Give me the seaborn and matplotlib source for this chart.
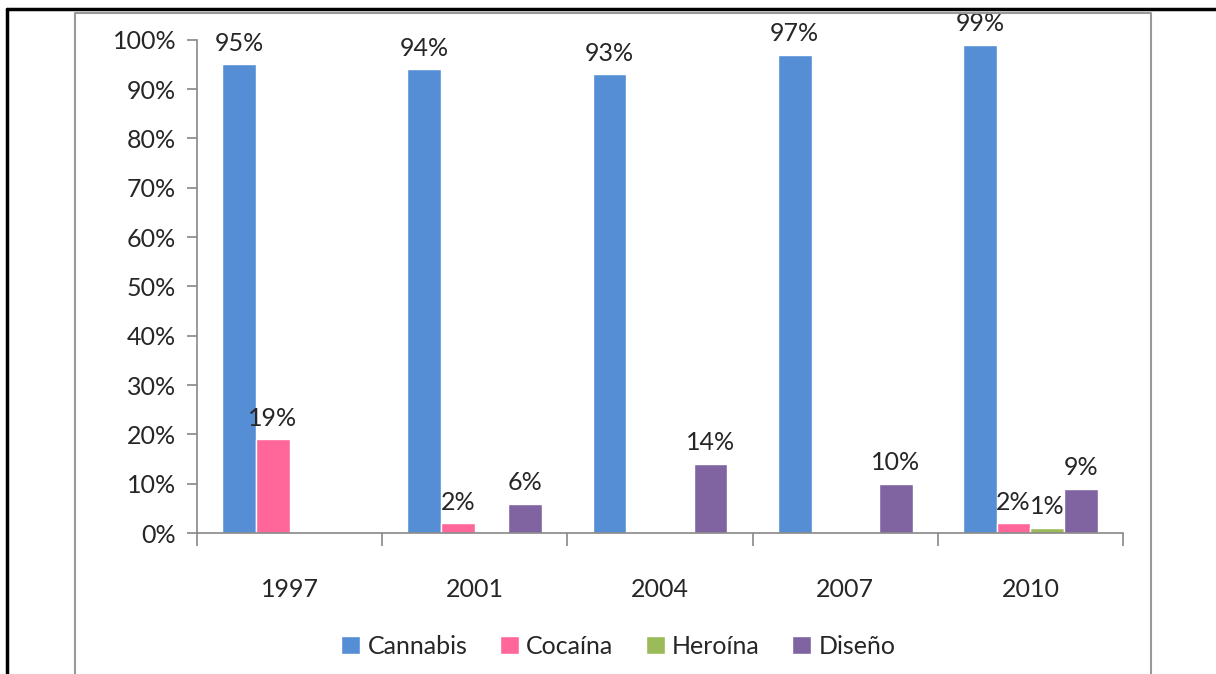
import numpy as np
import pandas as pd
import seaborn as sns
import matplotlib.pyplot as plt
from matplotlib.lines import Line2D
from matplotlib.ticker import FuncFormatter, FixedLocator

# Datos (porcentajes)
years = ["1997", "2001", "2004", "2007", "2010"]
cannabis = [95, 94, 93, 97, 99]
cocaina = [19, 2, np.nan, np.nan, 2]
heroina = [np.nan, np.nan, np.nan, np.nan, 1]
diseno = [np.nan, 6, 14, 10, 9]

drogas = ["Cannabis", "Cocaína", "Heroína", "Diseño"]
colores = ["#558ED5", "#FF6699", "#9BBB59", "#8064A2"]

df = pd.DataFrame({"anio": years * 4,
                   "droga": np.repeat(drogas, len(years)),
                   "valor": cannabis + cocaina + heroina + diseno})

sns.set_style("white")
plt.rcParams["font.family"] = ["Lato", "DejaVu Sans"]
fs = 18

fig = plt.figure(figsize=(12.16, 6.74), dpi=100)
ax = fig.add_axes([0.162, 0.209, 0.7615, 0.732])

sns.barplot(data=df, x="anio", y="valor", hue="droga", hue_order=drogas,
            palette=colores, width=4 / 5.5, saturation=1, ax=ax,
            errorbar=None, legend=True)

# Etiquetas de valor
for cont in ax.containers:
    ax.bar_label(cont, fmt="%.0f%%", padding=7, fontsize=fs)

ax.set_ylim(0, 100)
ax.set_xlim(-0.5, 4.5)
ax.yaxis.set_major_locator(FixedLocator(range(0, 101, 10)))
ax.yaxis.set_major_formatter(FuncFormatter(lambda v, p: f"{v:.0f}%"))
ax.tick_params(axis="y", length=7, width=1.2, color="#888888", labelsize=fs,
               left=True, pad=8)
ax.tick_params(axis="x", which="major", length=0, labelsize=fs, pad=32)
ax.set_xticks(np.arange(-0.5, 5, 1), minor=True)
ax.tick_params(axis="x", which="minor", length=9, width=1.2, color="#888888",
               bottom=True)
ax.set_xlabel("")
ax.set_ylabel("")
for s in ["top", "right"]:
    ax.spines[s].set_visible(False)
for s in ["left", "bottom"]:
    ax.spines[s].set_color("#888888")
    ax.spines[s].set_linewidth(1.2)

ax.legend(loc="upper center", bbox_to_anchor=(0.455, -0.16), ncol=4,
          frameon=False, fontsize=fs, handlelength=0.75, handleheight=0.75,
          handletextpad=0.3, columnspacing=1.3)

# Marcos exteriores
W, H = 1216, 674
fig.add_artist(Line2D([7 / W, 7 / W], [0, 1 - 9 / H], color="black", lw=2.5,
                      transform=fig.transFigure))
fig.add_artist(Line2D([7 / W, 1], [1 - 9 / H, 1 - 9 / H], color="black", lw=2.5,
                      transform=fig.transFigure))
fig.add_artist(Line2D([75 / W, 75 / W, 1151 / W, 1151 / W],
                      [0, 1 - 13 / H, 1 - 13 / H, 0], color="#999999", lw=1.5,
                      transform=fig.transFigure))

plt.savefig("out.png", dpi=100)
